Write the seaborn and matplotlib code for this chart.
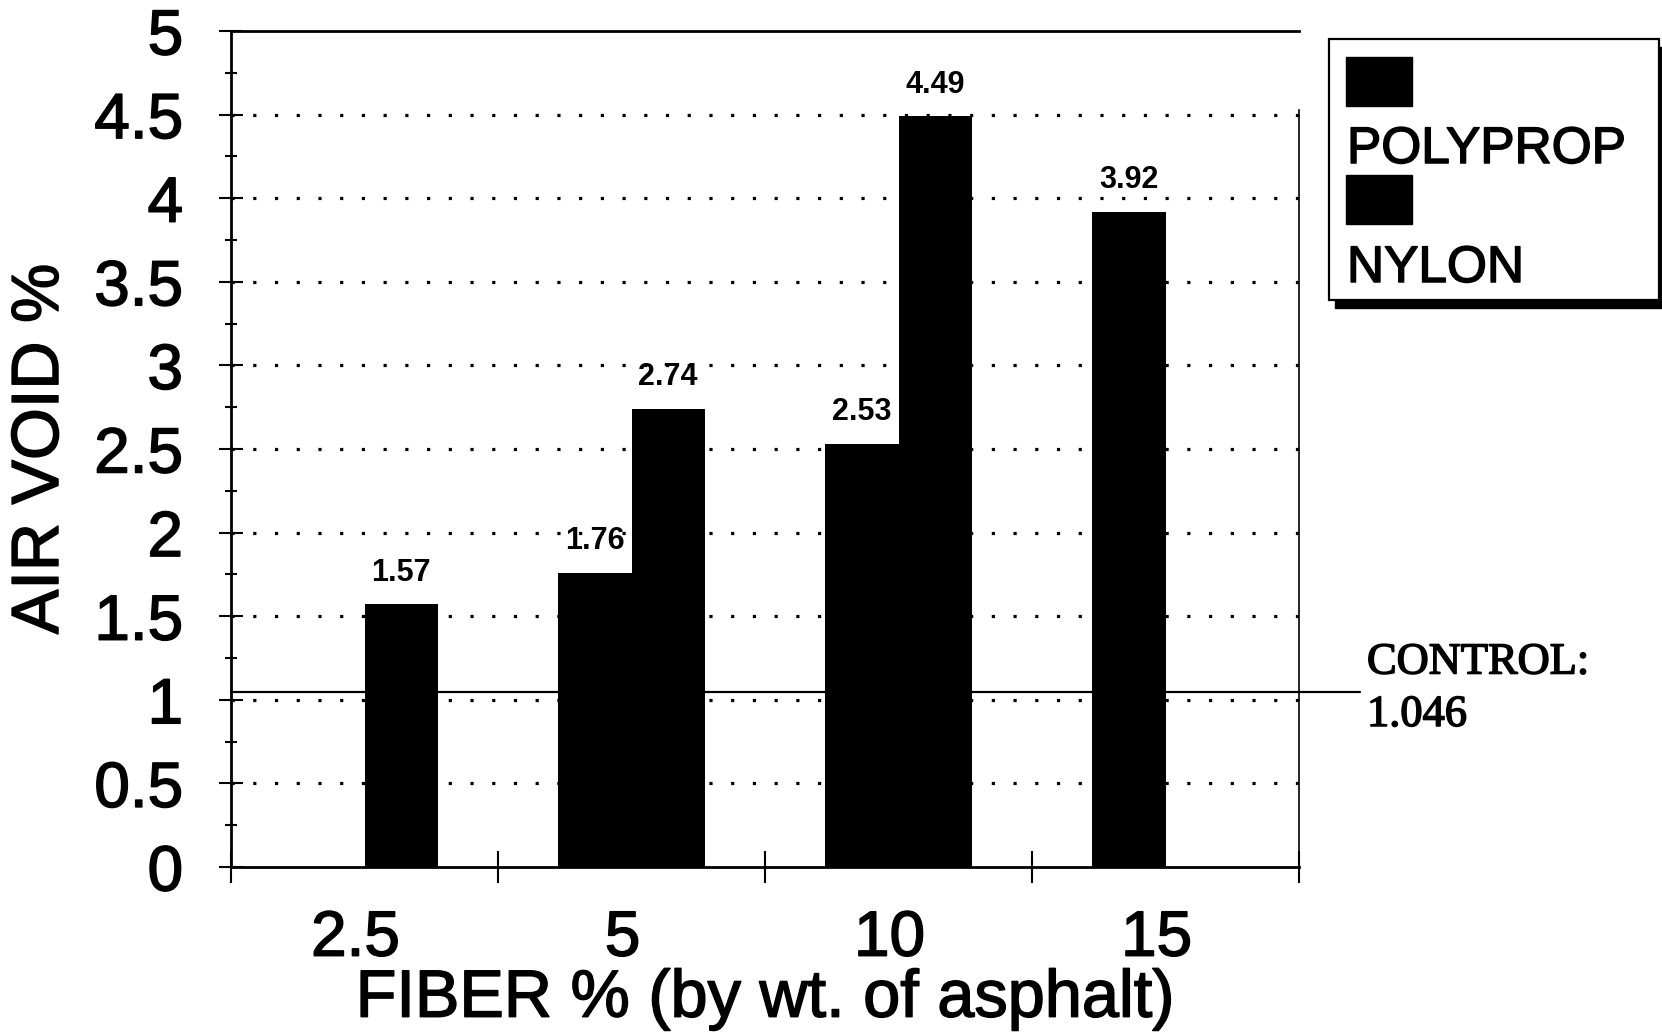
import numpy as np
import pandas as pd
import matplotlib
matplotlib.use("Agg")
import matplotlib.pyplot as plt
import matplotlib.patheffects as pe
import matplotlib.transforms as mtransforms
from matplotlib.patches import Rectangle
import seaborn as sns

# Air void results by fiber content
fiber_pct = ["2.5", "5", "10", "15"]
series_names = ["POLYPROP", "NYLON"]
polyprop = [np.nan, 1.76, 2.53, 3.92]
nylon = [1.57, 2.74, 4.49, np.nan]
control_value = 1.046
y_ticks = [0, 0.5, 1, 1.5, 2, 2.5, 3, 3.5, 4, 4.5, 5]
y_tick_labels = ["0", "0.5", "1", "1.5", "2", "2.5", "3", "3.5", "4", "4.5", "5"]

df = pd.DataFrame({
    "fiber": fiber_pct * 2,
    "fiber_type": [series_names[0]] * 4 + [series_names[1]] * 4,
    "air_void": polyprop + nylon,
}).dropna()

sns.set_theme(style="white")
plt.rcParams["font.family"] = ["Liberation Sans", "DejaVu Sans"]

# slightly heavier strokes for the printed-looking lettering
heavy = [pe.withStroke(linewidth=1.1, foreground="black")]

W, H = 1662, 1034
fig = plt.figure(figsize=(W / 100, H / 100), dpi=100)
fig.patch.set_facecolor("white")

def fx(px):
    return px / W

def fy(py):
    return 1 - py / H

ax_l, ax_r, ax_t, ax_b = 231, 1299, 31, 867
ax = fig.add_axes([fx(ax_l), fy(ax_b), fx(ax_r - ax_l), (ax_b - ax_t) / H])
ax.set_facecolor("white")

sns.barplot(data=df, x="fiber", y="air_void", hue="fiber_type",
            order=fiber_pct, hue_order=series_names,
            palette=["black", "black"], width=0.55, saturation=1,
            edgecolor="black", linewidth=0, legend=False, ax=ax)

for cont in ax.containers:
    ax.bar_label(cont, fmt="%.2f", padding=12, fontsize=22,
                 fontweight="bold", color="black")

ax.set_xlim(-0.5, 3.5)
ax.set_ylim(0, 5)

# dotted grid at the half-unit marks
for yv in y_ticks[1:-1]:
    ax.axhline(yv, color="black", lw=2.3, ls=(0, (1, 5.8)), zorder=0.5)

# control level line running past the plot edge
ax.axhline(control_value, xmin=0, xmax=(1360 - ax_l) / (ax_r - ax_l),
           color="black", lw=1.6, clip_on=False, zorder=3)
ax.text((1367 - ax_l) / (ax_r - ax_l), control_value + 0.02, "CONTROL:\n1.046",
        transform=ax.get_yaxis_transform(), ha="left", va="center",
        fontsize=32, family=["Liberation Serif", "DejaVu Serif"],
        linespacing=1.4, color="black", path_effects=heavy)

# y axis ticks
ax.set_yticks(y_ticks)
ax.set_yticklabels(y_tick_labels)
ax.set_yticks(np.arange(0.25, 5, 0.5), minor=True)
ax.tick_params(axis="y", which="major", direction="inout", length=17,
               width=1.5, color="black", labelsize=46, pad=26, left=True)
ax.tick_params(axis="y", which="minor", direction="inout", length=9,
               width=1.5, color="black", left=True)

# x axis: labels at category centers, ticks at category boundaries
ax.set_xticks(range(len(fiber_pct)))
ax.set_xticklabels(fiber_pct)
ax.set_xticks(np.arange(-0.5, 4, 1.0), minor=True)
ax.tick_params(axis="x", which="major", length=0, labelsize=46, pad=30)
ax.tick_params(axis="x", which="minor", direction="inout", length=23,
               width=1.5, color="black", bottom=True)

shift_left = mtransforms.ScaledTranslation(-9 / 100, 0, fig.dpi_scale_trans)
for lbl in ax.get_xticklabels():
    lbl.set_transform(lbl.get_transform() + shift_left)

for lbl in ax.get_xticklabels() + ax.get_yticklabels():
    lbl.set_color("black")
    lbl.set_path_effects(heavy)

ax.set_xlabel("FIBER % (by wt. of asphalt)", fontsize=48, color="black",
              labelpad=0, path_effects=heavy)
ax.set_ylabel("AIR VOID %", fontsize=48, color="black", labelpad=16,
              path_effects=heavy)

for side in ["left", "bottom", "top"]:
    ax.spines[side].set_visible(True)
    ax.spines[side].set_color("black")
    ax.spines[side].set_linewidth(2.0)
ax.spines["right"].set_visible(True)
ax.spines["right"].set_color("black")
ax.spines["right"].set_linewidth(1.2)
ax.spines["right"].set_bounds(0, 4.53)

# legend box with drop shadow, label under each swatch
lx0, lx1, ly0, ly1 = 1329, 1659, 39, 300
fig.patches.append(Rectangle((fx(lx0 + 6), fy(ly1 + 8)), fx(lx1 - lx0),
                             (ly1 - ly0) / H, transform=fig.transFigure,
                             facecolor="black", edgecolor="black", zorder=1))
fig.patches.append(Rectangle((fx(lx0), fy(ly1)), fx(lx1 - lx0),
                             (ly1 - ly0) / H, transform=fig.transFigure,
                             facecolor="white", edgecolor="black", lw=1.6,
                             zorder=2))
swatch_tops = [57, 175]
label_baselines = [163, 282]
for name, st, bl in zip(series_names, swatch_tops, label_baselines):
    fig.patches.append(Rectangle((fx(1346), fy(st + 49)), fx(66), 49 / H,
                                 transform=fig.transFigure, facecolor="black",
                                 edgecolor="black", zorder=3))
    fig.text(fx(1347), fy(bl), name, ha="left", va="baseline", fontsize=37,
             color="black", zorder=4, path_effects=heavy)

fig.savefig("out.png", dpi=100, facecolor="white")
